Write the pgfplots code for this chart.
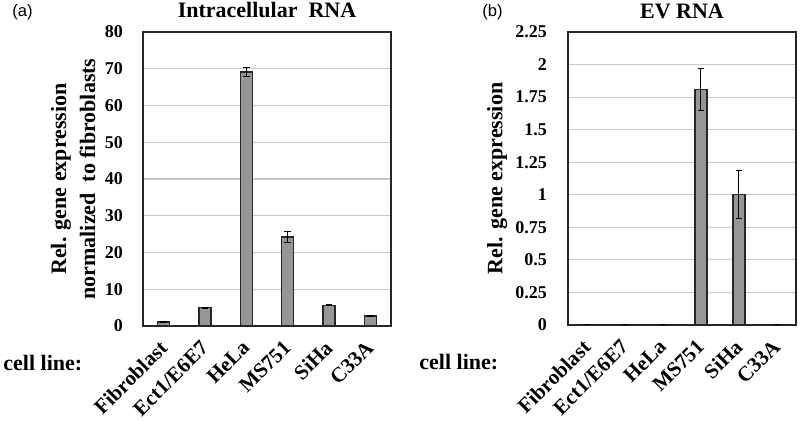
\documentclass[border=0pt]{standalone}
\usepackage{fontspec}
\setmainfont{Liberation Serif}
\newfontfamily\arial{Liberation Sans}
\usepackage{pgfplots}
\usepackage{pgfplotstable}
\pgfplotsset{compat=1.18}
\definecolor{barg}{RGB}{150,150,150}
\definecolor{gridg}{RGB}{200,200,200}
\pgfplotstableread{
x y e
0 1.1 0.1
1 5.0 0.15
2 69.1 1.2
3 24.2 1.6
4 5.6 0.15
5 2.7 0.15
}\intra
\pgfplotstableread{
x y e
0 0 0
1 0 0
2 0 0
3 1.81 0.16
4 1.00 0.185
5 0 0
}\ev
\begin{document}
\begin{tikzpicture}
\useasboundingbox (0,0) rectangle (400pt,210.5pt);
\pgfplotsset{
 common/.style={
  scale only axis,
  ybar, bar width=6pt,
  xmin=-0.5, xmax=5.5,
  xtick={0,...,5},
  xticklabels={Fibroblast,Ect1/E6E7,HeLa,MS751,SiHa,C33A},
  major tick length=0pt,
  ymajorgrids, grid style={gridg, line width=0.6pt},
  axis line style={black!85, line width=0.7pt},
  /pgf/number format/assume math mode=true,
  yticklabel style={font=\fontsize{9}{10}\selectfont\bfseries},
  xticklabel style={xshift=-2.75pt, yshift=-6.5pt, rotate=45, anchor=north east, inner sep=0pt, font=\fontsize{10.5}{12}\selectfont\bfseries},
  ylabel style={font=\fontsize{11}{14.5}\selectfont\bfseries, align=center, rotate=0, anchor=center},
  title style={font=\fontsize{11}{13}\selectfont\bfseries, at={(axis description cs:0.5,1)}, anchor=base},
  clip=false,
 },
 bars/.style={fill=barg, draw=black!85, line width=0.6pt,
  error bars/.cd, y dir=both, y explicit,
  error bar style={black, line width=0.5pt},
  error mark options={rotate=90, mark size=1.6pt, black, line width=0.5pt}},
}
\begin{axis}[common,
  at={(71.5pt,47.5pt)}, width=124pt, height=147pt,
  ymin=0, ymax=80, ytick={0,10,...,80},
  yticklabel style={xshift=-6.5pt},
  ylabel={Rel. gene expression\\normalized\ \ to fibroblasts},
  ylabel style={at={(axis description cs:-0.282,0.5)}},
  title={Intracellular\ \ RNA}, title style={yshift=1pt},
]
\addplot[bars] table[x=x, y=y, y error=e] {\intra};
\end{axis}
\begin{axis}[common,
  at={(284pt,48pt)}, width=114pt, height=146.5pt,
  ymin=0, ymax=2.25, ytick={0,0.25,0.5,0.75,1,1.25,1.5,1.75,2,2.25},
  yticklabel style={xshift=-7pt, /pgf/number format/fixed, /pgf/number format/precision=2},
  ylabel={Rel. gene expression},
  ylabel style={at={(axis description cs:-0.311,0.5)}},
  title={EV RNA}, title style={yshift=0.5pt},
]
\addplot[bars] table[x=x, y=y, y error=e] {\ev};
\end{axis}
\node[anchor=west, inner sep=0pt, font=\arial\fontsize{8.3}{10}\selectfont] at (6pt,204.25pt) {(a)};
\node[anchor=west, inner sep=0pt, font=\arial\fontsize{8.3}{10}\selectfont] at (241pt,204.25pt) {(b)};
\node[anchor=base west, inner sep=0pt, font=\fontsize{11}{13}\selectfont\bfseries] at (1.5pt,25pt) {cell line:};
\node[anchor=base west, inner sep=0pt, font=\fontsize{11}{13}\selectfont\bfseries] at (209.5pt,25.5pt) {cell line:};
\end{tikzpicture}
\end{document}
